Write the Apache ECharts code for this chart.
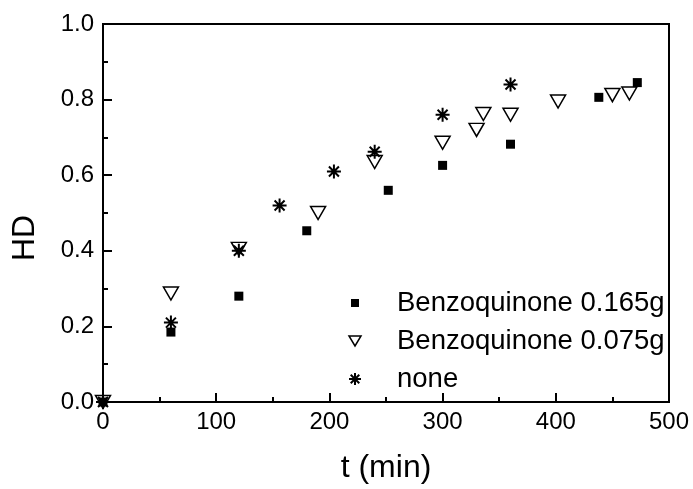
<!DOCTYPE html>
<html>
<head>
<meta charset="utf-8">
<title>HD vs t</title>
<script src="https://cdn.jsdelivr.net/npm/echarts@6/dist/echarts.min.js"></script>
<style>
  html, body { margin: 0; padding: 0; background: #fff; }
  #chart { width: 693px; height: 489px; }
</style>
</head>
<body>
<div id="chart"></div>
<script>
// data
var seriesNames = ['Benzoquinone 0.165g', 'Benzoquinone 0.075g', 'none'];
var tBq165 = [0, 60, 120, 180, 252, 300, 360, 438, 472];
var hdBq165 = [0, 0.185, 0.28, 0.453, 0.56, 0.626, 0.682, 0.806, 0.845];
var tBq075 = [0, 60, 120, 190, 240, 300, 330, 336, 360, 402, 450, 465];
var hdBq075 = [0, 0.287, 0.405, 0.5, 0.635, 0.686, 0.72, 0.762, 0.76, 0.795, 0.812, 0.816];
var tNone = [0, 60, 120, 156, 204, 240, 300, 360];
var hdNone = [0, 0.21, 0.40, 0.52, 0.61, 0.662, 0.76, 0.84];

function pairs(xs, ys) {
  var out = [];
  for (var i = 0; i < xs.length; i++) out.push([xs[i], ys[i]]);
  return out;
}

var FONT = 'Liberation Sans';
var TRI = 'path://M0,0L15,0L7.5,13Z';
var STAR = 'path://M7,0L7,14M0,7L14,7M2,2L12,12M12,2L2,12';
var clear = 'rgba(0,0,0,0)';

var chart = echarts.init(document.getElementById('chart'));
chart.setOption({
  animation: false,
  backgroundColor: '#fff',
  grid: {
    left: 103, right: 24, top: 24, bottom: 83,
    show: true, borderColor: '#000', borderWidth: 2
  },
  graphic: [{
    type: 'text', x: 25, y: 238, rotation: Math.PI / 2,
    style: { text: 'HD', font: '32px "' + FONT + '"', fill: '#000', align: 'center', verticalAlign: 'middle' }
  }],
  legend: {
    orient: 'vertical', left: 348, top: 288, padding: 0, itemGap: 8,
    itemWidth: 12, itemHeight: 12,
    textStyle: { fontFamily: FONT, fontSize: 27.5, color: '#000', lineHeight: 30, padding: [0, 0, 0, 31] },
    data: [
      { name: seriesNames[0], icon: 'path://M0,0M12,12M2,2L10,2L10,10L2,10Z', itemStyle: { color: '#000', borderWidth: 0 } },
      { name: seriesNames[1], icon: 'path://M0,1L12,1L6,11Z', itemStyle: { color: clear, borderColor: '#000', borderWidth: 1.5 } },
      { name: seriesNames[2], icon: STAR, itemStyle: { color: clear, borderColor: '#000', borderWidth: 2 } }
    ]
  },
  xAxis: {
    type: 'value', min: 0, max: 500, interval: 100,
    name: 't (min)', nameLocation: 'middle', nameGap: 50,
    nameTextStyle: { fontFamily: FONT, fontSize: 32, color: '#000' },
    axisLine: { lineStyle: { color: '#000', width: 2 } },
    axisTick: { inside: true, length: 9, lineStyle: { width: 2 } },
    minorTick: { show: true, splitNumber: 2, length: 5, lineStyle: { color: '#000', width: 2 } },
    splitLine: { show: false },
    axisLabel: { fontFamily: FONT, fontSize: 24, color: '#000', margin: 8 }
  },
  yAxis: {
    type: 'value', min: 0, max: 1, interval: 0.2,
    axisLine: { show: true, lineStyle: { color: '#000', width: 2 } },
    axisTick: { show: true, inside: true, length: 9, lineStyle: { width: 2 } },
    minorTick: { show: true, splitNumber: 2, length: 5, lineStyle: { color: '#000', width: 2 } },
    splitLine: { show: false },
    axisLabel: {
      fontFamily: FONT, fontSize: 24, color: '#000', margin: 9,
      formatter: function (v) { return v.toFixed(1); }
    }
  },
  series: [
    {
      name: seriesNames[0], type: 'scatter', symbol: 'rect', symbolSize: 9,
      itemStyle: { color: '#000', opacity: 1 },
      data: pairs(tBq165, hdBq165)
    },
    {
      name: seriesNames[1], type: 'scatter', symbol: TRI, symbolSize: [15, 13],
      itemStyle: { color: clear, borderColor: '#000', borderWidth: 1.5, opacity: 1 },
      data: pairs(tBq075, hdBq075)
    },
    {
      name: seriesNames[2], type: 'scatter', symbol: STAR, symbolSize: 14,
      itemStyle: { color: clear, borderColor: '#000', borderWidth: 2, opacity: 1 },
      data: pairs(tNone, hdNone)
    }
  ]
});
</script>
</body>
</html>
